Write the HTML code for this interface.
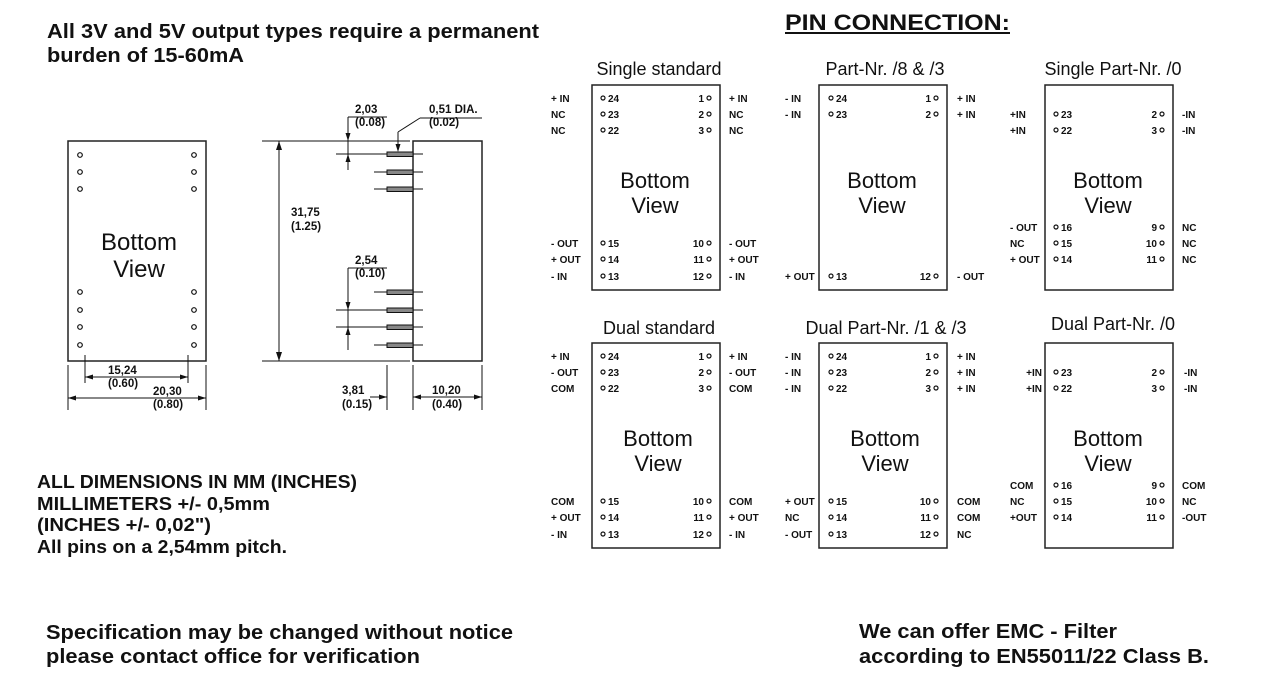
<!DOCTYPE html>
<html><head><meta charset="utf-8"><style>
html,body{margin:0;padding:0;background:#fff;}
svg{display:block;font-family:"Liberation Sans",Arial,sans-serif;}
.b{font-weight:bold;fill:#111;}
.p{font-size:10px;font-weight:bold;fill:#111;}
.bv{font-size:22px;fill:#111;}
.t{font-size:18px;fill:#111;}
.d{font-size:11.5px;font-weight:bold;fill:#111;}
.l{stroke:#111;stroke-width:1;fill:none;}
.bx{stroke:#222;stroke-width:1.5;fill:#fff;}
.c{stroke:#111;stroke-width:1.2;fill:#fff;}
.pin{fill:#888;stroke:#111;stroke-width:1;}
.ar{fill:#111;}
</style></head><body>
<svg width="1280" height="685" viewBox="0 0 1280 685" xmlns="http://www.w3.org/2000/svg">
<!-- header texts -->
<text class="b" x="47" y="38" font-size="20" textLength="492" lengthAdjust="spacingAndGlyphs">All 3V and 5V output types require a permanent</text>
<text class="b" x="47" y="62" font-size="20" textLength="197" lengthAdjust="spacingAndGlyphs">burden of 15-60mA</text>
<text class="b" x="785" y="30" font-size="22" textLength="225" lengthAdjust="spacingAndGlyphs">PIN  CONNECTION:</text>
<line x1="785" y1="33" x2="1010" y2="33" stroke="#111" stroke-width="2"/>

<!-- left bottom view box -->
<rect x="68" y="141" width="138" height="220" class="bx"/>
<g class="c">
<circle cx="80" cy="155" r="2.3"/><circle cx="80" cy="172" r="2.3"/><circle cx="80" cy="189" r="2.3"/>
<circle cx="194" cy="155" r="2.3"/><circle cx="194" cy="172" r="2.3"/><circle cx="194" cy="189" r="2.3"/>
<circle cx="80" cy="292" r="2.3"/><circle cx="80" cy="310" r="2.3"/><circle cx="80" cy="327" r="2.3"/><circle cx="80" cy="345" r="2.3"/>
<circle cx="194" cy="292" r="2.3"/><circle cx="194" cy="310" r="2.3"/><circle cx="194" cy="327" r="2.3"/><circle cx="194" cy="345" r="2.3"/>
</g>
<text x="139" y="250" text-anchor="middle" font-size="24" fill="#111">Bottom</text>
<text x="139" y="277" text-anchor="middle" font-size="24" fill="#111">View</text>
<!-- left dims -->
<g class="l">
<line x1="68" y1="365" x2="68" y2="410"/><line x1="206" y1="365" x2="206" y2="410"/>
<line x1="85" y1="355" x2="85" y2="383"/><line x1="188" y1="355" x2="188" y2="383"/>
<line x1="85" y1="377" x2="188" y2="377"/><line x1="68" y1="398" x2="206" y2="398"/>
</g>
<g class="ar">
<polygon points="85,377 93,374.5 93,379.5"/><polygon points="188,377 180,374.5 180,379.5"/>
<polygon points="68,398 76,395.5 76,400.5"/><polygon points="206,398 198,395.5 198,400.5"/>
</g>
<text class="d" x="108" y="374">15,24</text><text class="d" x="108" y="387">(0.60)</text>
<text class="d" x="153" y="395">20,30</text><text class="d" x="153" y="408">(0.80)</text>

<!-- side view -->
<rect x="413" y="141" width="69" height="220" class="bx"/>
<g class="l">
<line x1="262" y1="141" x2="410" y2="141"/><line x1="262" y1="361" x2="410" y2="361"/>
<line x1="279" y1="141" x2="279" y2="361"/>
<line x1="374" y1="154" x2="423" y2="154"/><line x1="336" y1="154" x2="374" y2="154"/>
<line x1="374" y1="172" x2="423" y2="172"/><line x1="374" y1="189" x2="423" y2="189"/>
<line x1="374" y1="292" x2="423" y2="292"/>
<line x1="336" y1="310" x2="423" y2="310"/><line x1="336" y1="327" x2="423" y2="327"/>
<line x1="374" y1="345" x2="423" y2="345"/>
<line x1="348" y1="117" x2="348" y2="170"/><line x1="348" y1="117" x2="387" y2="117"/>
<line x1="348" y1="268" x2="348" y2="350"/><line x1="348" y1="268" x2="387" y2="268"/>
<line x1="420" y1="118" x2="482" y2="118"/><line x1="420" y1="118" x2="398" y2="132"/><line x1="398" y1="132" x2="398" y2="146"/>
<line x1="387" y1="365" x2="387" y2="410"/><line x1="413" y1="365" x2="413" y2="410"/><line x1="482" y1="365" x2="482" y2="410"/>
<line x1="370" y1="397" x2="387" y2="397"/><line x1="413" y1="397" x2="482" y2="397"/>
</g>
<g class="pin">
<rect x="387" y="152" width="26" height="4.5"/><rect x="387" y="170" width="26" height="4.5"/><rect x="387" y="187" width="26" height="4.5"/>
<rect x="387" y="290" width="26" height="4.5"/><rect x="387" y="308" width="26" height="4.5"/><rect x="387" y="325" width="26" height="4.5"/><rect x="387" y="343" width="26" height="4.5"/>
</g>
<g class="ar">
<polygon points="279,141 276,150 282,150"/><polygon points="279,361 276,352 282,352"/>
<polygon points="348,141 345.5,133 350.5,133"/><polygon points="348,154 345.5,162 350.5,162"/>
<polygon points="348,310 345.5,302 350.5,302"/><polygon points="348,327 345.5,335 350.5,335"/>
<polygon points="398,152 395.5,144 400.5,144"/>
<polygon points="387,397 379,394.5 379,399.5"/><polygon points="413,397 421,394.5 421,399.5"/><polygon points="482,397 474,394.5 474,399.5"/>
</g>
<text class="d" x="355" y="113">2,03</text><text class="d" x="355" y="126">(0.08)</text>
<text class="d" x="429" y="113">0,51 DIA.</text><text class="d" x="429" y="126">(0.02)</text>
<text class="d" x="291" y="216">31,75</text><text class="d" x="291" y="230">(1.25)</text>
<text class="d" x="355" y="264">2,54</text><text class="d" x="355" y="277">(0.10)</text>
<text class="d" x="342" y="394">3,81</text><text class="d" x="342" y="408">(0.15)</text>
<text class="d" x="432" y="394">10,20</text><text class="d" x="432" y="408">(0.40)</text>

<!-- notes -->
<text class="b" x="37" y="488" font-size="18" textLength="320" lengthAdjust="spacingAndGlyphs">ALL DIMENSIONS IN MM (INCHES)</text>
<text class="b" x="37" y="510" font-size="18" textLength="233" lengthAdjust="spacingAndGlyphs">MILLIMETERS  +/- 0,5mm</text>
<text class="b" x="37" y="531" font-size="18" textLength="174" lengthAdjust="spacingAndGlyphs">(INCHES  +/- 0,02")</text>
<text class="b" x="37" y="553" font-size="18" textLength="250" lengthAdjust="spacingAndGlyphs">All pins on a 2,54mm pitch.</text>
<text class="b" x="46" y="639" font-size="20" textLength="467" lengthAdjust="spacingAndGlyphs">Specification may be changed without notice</text>
<text class="b" x="46" y="663" font-size="20" textLength="374" lengthAdjust="spacingAndGlyphs">please contact office for verification</text>
<text class="b" x="859" y="638" font-size="20" textLength="258" lengthAdjust="spacingAndGlyphs">We can offer EMC - Filter</text>
<text class="b" x="859" y="663" font-size="20" textLength="350" lengthAdjust="spacingAndGlyphs">according to EN55011/22 Class B.</text>

<!-- titles -->
<text class="t" x="659" y="75" text-anchor="middle">Single standard</text>
<text class="t" x="885" y="75" text-anchor="middle">Part-Nr. /8 &amp; /3</text>
<text class="t" x="1113" y="75" text-anchor="middle">Single Part-Nr. /0</text>
<text class="t" x="659" y="334" text-anchor="middle">Dual standard</text>
<text class="t" x="886" y="334" text-anchor="middle">Dual Part-Nr. /1 &amp; /3</text>
<text class="t" x="1113" y="330" text-anchor="middle">Dual Part-Nr. /0</text>

<!-- boxes -->
<rect x="592" y="85" width="128" height="205" class="bx"/>
<rect x="819" y="85" width="128" height="205" class="bx"/>
<rect x="1045" y="85" width="128" height="205" class="bx"/>
<rect x="592" y="343" width="128" height="205" class="bx"/>
<rect x="819" y="343" width="128" height="205" class="bx"/>
<rect x="1045" y="343" width="128" height="205" class="bx"/>
<g class="bv" text-anchor="middle">
<text x="655" y="188">Bottom</text><text x="655" y="213">View</text>
<text x="882" y="188">Bottom</text><text x="882" y="213">View</text>
<text x="1108" y="188">Bottom</text><text x="1108" y="213">View</text>
<text x="658" y="446">Bottom</text><text x="658" y="471">View</text>
<text x="885" y="446">Bottom</text><text x="885" y="471">View</text>
<text x="1108" y="446">Bottom</text><text x="1108" y="471">View</text>
</g>

<!-- pin circles -->
<g class="c">
<!-- A1 -->
<circle cx="603" cy="98" r="2"/><circle cx="603" cy="114" r="2"/><circle cx="603" cy="130" r="2"/>
<circle cx="709" cy="98" r="2"/><circle cx="709" cy="114" r="2"/><circle cx="709" cy="130" r="2"/>
<circle cx="603" cy="243" r="2"/><circle cx="603" cy="259" r="2"/><circle cx="603" cy="276" r="2"/>
<circle cx="709" cy="243" r="2"/><circle cx="709" cy="259" r="2"/><circle cx="709" cy="276" r="2"/>
<!-- B1 -->
<circle cx="831" cy="98" r="2"/><circle cx="831" cy="114" r="2"/>
<circle cx="936" cy="98" r="2"/><circle cx="936" cy="114" r="2"/>
<circle cx="831" cy="276" r="2"/><circle cx="936" cy="276" r="2"/>
<!-- C1 -->
<circle cx="1056" cy="114" r="2"/><circle cx="1056" cy="130" r="2"/>
<circle cx="1162" cy="114" r="2"/><circle cx="1162" cy="130" r="2"/>
<circle cx="1056" cy="227" r="2"/><circle cx="1056" cy="243" r="2"/><circle cx="1056" cy="259" r="2"/>
<circle cx="1162" cy="227" r="2"/><circle cx="1162" cy="243" r="2"/><circle cx="1162" cy="259" r="2"/>
<!-- A2 -->
<circle cx="603" cy="356" r="2"/><circle cx="603" cy="372" r="2"/><circle cx="603" cy="388" r="2"/>
<circle cx="709" cy="356" r="2"/><circle cx="709" cy="372" r="2"/><circle cx="709" cy="388" r="2"/>
<circle cx="603" cy="501" r="2"/><circle cx="603" cy="517" r="2"/><circle cx="603" cy="534" r="2"/>
<circle cx="709" cy="501" r="2"/><circle cx="709" cy="517" r="2"/><circle cx="709" cy="534" r="2"/>
<!-- B2 -->
<circle cx="831" cy="356" r="2"/><circle cx="831" cy="372" r="2"/><circle cx="831" cy="388" r="2"/>
<circle cx="936" cy="356" r="2"/><circle cx="936" cy="372" r="2"/><circle cx="936" cy="388" r="2"/>
<circle cx="831" cy="501" r="2"/><circle cx="831" cy="517" r="2"/><circle cx="831" cy="534" r="2"/>
<circle cx="936" cy="501" r="2"/><circle cx="936" cy="517" r="2"/><circle cx="936" cy="534" r="2"/>
<!-- C2 -->
<circle cx="1056" cy="372" r="2"/><circle cx="1056" cy="388" r="2"/>
<circle cx="1162" cy="372" r="2"/><circle cx="1162" cy="388" r="2"/>
<circle cx="1056" cy="485" r="2"/><circle cx="1056" cy="501" r="2"/><circle cx="1056" cy="517" r="2"/>
<circle cx="1162" cy="485" r="2"/><circle cx="1162" cy="501" r="2"/><circle cx="1162" cy="517" r="2"/>
</g>

<g class="p">
<!-- A1 -->
<text x="551" y="102">+ IN</text><text x="551" y="118">NC</text><text x="551" y="134">NC</text>
<text x="608" y="102">24</text><text x="608" y="118">23</text><text x="608" y="134">22</text>
<text x="704" y="102" text-anchor="end">1</text><text x="704" y="118" text-anchor="end">2</text><text x="704" y="134" text-anchor="end">3</text>
<text x="729" y="102">+ IN</text><text x="729" y="118">NC</text><text x="729" y="134">NC</text>
<text x="551" y="247">- OUT</text><text x="551" y="263">+ OUT</text><text x="551" y="280">- IN</text>
<text x="608" y="247">15</text><text x="608" y="263">14</text><text x="608" y="280">13</text>
<text x="704" y="247" text-anchor="end">10</text><text x="704" y="263" text-anchor="end">11</text><text x="704" y="280" text-anchor="end">12</text>
<text x="729" y="247">- OUT</text><text x="729" y="263">+ OUT</text><text x="729" y="280">- IN</text>
<!-- B1 -->
<text x="785" y="102">- IN</text><text x="785" y="118">- IN</text>
<text x="836" y="102">24</text><text x="836" y="118">23</text>
<text x="931" y="102" text-anchor="end">1</text><text x="931" y="118" text-anchor="end">2</text>
<text x="957" y="102">+ IN</text><text x="957" y="118">+ IN</text>
<text x="785" y="280">+ OUT</text><text x="836" y="280">13</text>
<text x="931" y="280" text-anchor="end">12</text><text x="957" y="280">- OUT</text>
<!-- C1 -->
<text x="1010" y="118">+IN</text><text x="1010" y="134">+IN</text>
<text x="1061" y="118">23</text><text x="1061" y="134">22</text>
<text x="1157" y="118" text-anchor="end">2</text><text x="1157" y="134" text-anchor="end">3</text>
<text x="1182" y="118">-IN</text><text x="1182" y="134">-IN</text>
<text x="1010" y="231">- OUT</text><text x="1010" y="247">NC</text><text x="1010" y="263">+ OUT</text>
<text x="1061" y="231">16</text><text x="1061" y="247">15</text><text x="1061" y="263">14</text>
<text x="1157" y="231" text-anchor="end">9</text><text x="1157" y="247" text-anchor="end">10</text><text x="1157" y="263" text-anchor="end">11</text>
<text x="1182" y="231">NC</text><text x="1182" y="247">NC</text><text x="1182" y="263">NC</text>
<!-- A2 -->
<text x="551" y="360">+ IN</text><text x="551" y="376">- OUT</text><text x="551" y="392">COM</text>
<text x="608" y="360">24</text><text x="608" y="376">23</text><text x="608" y="392">22</text>
<text x="704" y="360" text-anchor="end">1</text><text x="704" y="376" text-anchor="end">2</text><text x="704" y="392" text-anchor="end">3</text>
<text x="729" y="360">+ IN</text><text x="729" y="376">- OUT</text><text x="729" y="392">COM</text>
<text x="551" y="505">COM</text><text x="551" y="521">+ OUT</text><text x="551" y="538">- IN</text>
<text x="608" y="505">15</text><text x="608" y="521">14</text><text x="608" y="538">13</text>
<text x="704" y="505" text-anchor="end">10</text><text x="704" y="521" text-anchor="end">11</text><text x="704" y="538" text-anchor="end">12</text>
<text x="729" y="505">COM</text><text x="729" y="521">+ OUT</text><text x="729" y="538">- IN</text>
<!-- B2 -->
<text x="785" y="360">- IN</text><text x="785" y="376">- IN</text><text x="785" y="392">- IN</text>
<text x="836" y="360">24</text><text x="836" y="376">23</text><text x="836" y="392">22</text>
<text x="931" y="360" text-anchor="end">1</text><text x="931" y="376" text-anchor="end">2</text><text x="931" y="392" text-anchor="end">3</text>
<text x="957" y="360">+ IN</text><text x="957" y="376">+ IN</text><text x="957" y="392">+ IN</text>
<text x="785" y="505">+ OUT</text><text x="785" y="521">NC</text><text x="785" y="538">- OUT</text>
<text x="836" y="505">15</text><text x="836" y="521">14</text><text x="836" y="538">13</text>
<text x="931" y="505" text-anchor="end">10</text><text x="931" y="521" text-anchor="end">11</text><text x="931" y="538" text-anchor="end">12</text>
<text x="957" y="505">COM</text><text x="957" y="521">COM</text><text x="957" y="538">NC</text>
<!-- C2 -->
<text x="1042" y="376" text-anchor="end">+IN</text><text x="1042" y="392" text-anchor="end">+IN</text>
<text x="1061" y="376">23</text><text x="1061" y="392">22</text>
<text x="1157" y="376" text-anchor="end">2</text><text x="1157" y="392" text-anchor="end">3</text>
<text x="1184" y="376">-IN</text><text x="1184" y="392">-IN</text>
<text x="1010" y="489">COM</text><text x="1010" y="505">NC</text><text x="1010" y="521">+OUT</text>
<text x="1061" y="489">16</text><text x="1061" y="505">15</text><text x="1061" y="521">14</text>
<text x="1157" y="489" text-anchor="end">9</text><text x="1157" y="505" text-anchor="end">10</text><text x="1157" y="521" text-anchor="end">11</text>
<text x="1182" y="489">COM</text><text x="1182" y="505">NC</text><text x="1182" y="521">-OUT</text>
</g>
</svg>
</body></html>
